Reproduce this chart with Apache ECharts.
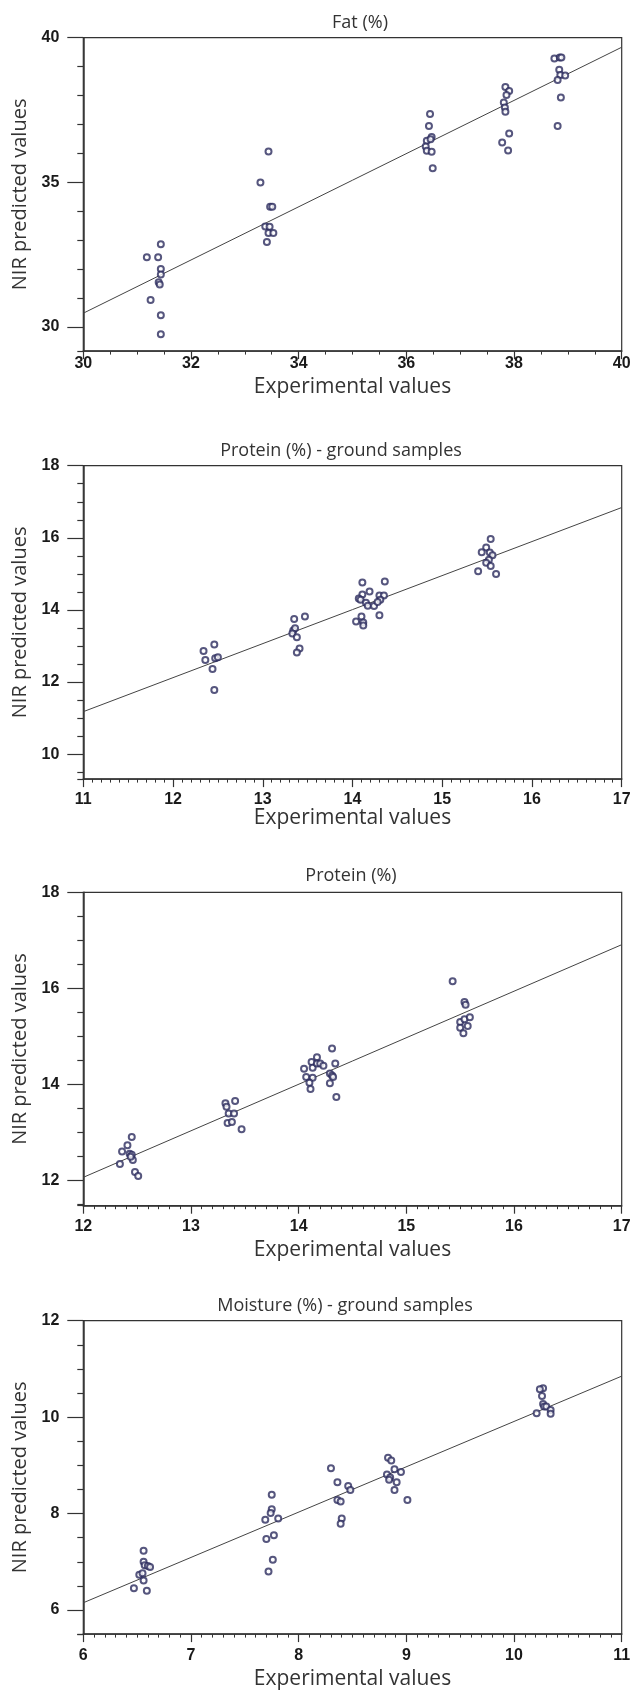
<!DOCTYPE html>
<html>
<head>
<meta charset="utf-8">
<script src="https://cdn.jsdelivr.net/npm/echarts@6/dist/echarts.min.js"></script>
<style>
html, body { margin: 0; padding: 0; background: #fff; }
#chart { width: 630px; height: 1692px; }
</style>
</head>
<body>
<div id="chart"></div>
<script>
// Fat (%)
var fatX = [31.18,31.39,31.44,31.44,31.44,31.40,31.42,31.25,31.44,31.44,
    33.44,33.29,33.47,33.51,33.38,33.46,33.44,33.53,33.41,
    36.44,36.42,36.47,36.38,36.45,36.36,36.38,36.47,36.49,
    37.84,37.91,37.86,37.81,37.83,37.84,37.91,37.78,37.89,
    38.75,38.85,38.88,38.84,38.86,38.95,38.81,38.87,38.81]
var fatY = [32.41,32.41,32.86,32.01,31.82,31.55,31.47,30.94,30.41,29.75,
    36.07,35.00,34.16,34.16,33.48,33.47,33.25,33.25,32.94,
    37.36,36.95,36.57,36.44,36.49,36.24,36.09,36.06,35.49,
    38.30,38.16,38.02,37.76,37.59,37.44,36.69,36.38,36.10,
    39.28,39.32,39.32,38.89,38.71,38.69,38.54,37.93,36.95]
var fatLineX = [30, 40]
var fatLineY = [30.48, 39.67]
var fatYTicks = [30, 35, 40]

// Protein (%) - ground samples
var protGroundX = [12.34,12.46,12.36,12.47,12.50,12.44,12.46,
    13.35,13.47,13.34,13.36,13.33,13.38,13.41,13.38,
    14.11,14.11,14.19,14.07,14.09,14.15,14.17,14.24,14.04,14.10,14.12,14.12,14.36,14.30,14.35,14.31,14.28,14.30,
    15.54,15.49,15.44,15.53,15.56,15.52,15.49,15.54,15.40,15.60]
var protGroundY = [12.86,13.04,12.61,12.66,12.69,12.36,11.78,
    13.75,13.82,13.43,13.49,13.35,13.24,12.93,12.82,
    14.76,14.43,14.51,14.32,14.28,14.20,14.12,14.11,13.68,13.82,13.65,13.57,14.79,14.40,14.40,14.28,14.22,13.85,
    15.97,15.73,15.60,15.59,15.52,15.39,15.31,15.22,15.07,15.00]
var protGroundLineX = [11, 17]
var protGroundLineY = [11.18, 16.84]
var protGroundYTicks = [10, 12, 14, 16, 18]

// Protein (%)
var protX = [12.34,12.36,12.41,12.45,12.43,12.45,12.46,12.48,12.51,12.44,
    13.32,13.33,13.41,13.35,13.40,13.34,13.38,13.47,
    14.05,14.12,14.17,14.13,14.17,14.20,14.23,14.07,14.13,14.10,14.11,14.31,14.34,14.29,14.31,14.32,14.29,14.35,
    15.43,15.54,15.55,15.50,15.54,15.59,15.50,15.57,15.53]
var protY = [12.35,12.61,12.74,12.91,12.56,12.54,12.43,12.18,12.10,12.50,
    13.61,13.54,13.66,13.40,13.40,13.20,13.22,13.07,
    14.33,14.47,14.57,14.35,14.44,14.44,14.39,14.16,14.14,14.04,13.91,14.75,14.44,14.23,14.19,14.16,14.03,13.74,
    16.15,15.72,15.66,15.30,15.36,15.40,15.18,15.22,15.07]
var protLineX = [12, 17]
var protLineY = [12.07, 16.91]
var protYTicks = [12, 14, 16, 18]

// Moisture (%) - ground samples
var moistX = [6.47,6.56,6.56,6.57,6.60,6.62,6.52,6.55,6.56,6.59,
    7.75,7.75,7.74,7.69,7.81,7.77,7.70,7.76,7.72,
    8.30,8.36,8.46,8.48,8.36,8.39,8.40,8.39,
    8.83,8.86,8.89,8.95,8.82,8.85,8.84,8.91,8.89,9.01,
    10.27,10.24,10.26,10.27,10.21,10.28,10.30,10.34,10.34]
var moistY = [6.45,7.23,7.00,6.93,6.91,6.89,6.73,6.76,6.61,6.40,
    8.39,8.09,8.01,7.87,7.90,7.55,7.47,7.04,6.80,
    8.94,8.65,8.57,8.49,8.28,8.25,7.90,7.79,
    9.16,9.10,8.92,8.86,8.81,8.75,8.70,8.65,8.49,8.28,
    10.60,10.58,10.44,10.27,10.08,10.22,10.22,10.15,10.07]
var moistLineX = [6, 11]
var moistLineY = [6.15, 10.85]
var moistYTicks = [6, 8, 10, 12]

var titles = ['Fat (%)', 'Protein (%) - ground samples', 'Protein (%)', 'Moisture (%) - ground samples']

var panels = [
    { x: fatX, y: fatY, lx: fatLineX, ly: fatLineY, yTicks: fatYTicks, xMin: 30, xMax: 40, xStep: 2, xSplit: 4, yMin: 29.17, yMax: 40, yMinor: 1 },
    { x: protGroundX, y: protGroundY, lx: protGroundLineX, ly: protGroundLineY, yTicks: protGroundYTicks, xMin: 11, xMax: 17, xStep: 1, xSplit: 10, yMin: 9.31, yMax: 18, yMinor: 0.5 },
    { x: protX, y: protY, lx: protLineX, ly: protLineY, yTicks: protYTicks, xMin: 12, xMax: 17, xStep: 1, xSplit: 10, yMin: 11.48, yMax: 18, yMinor: 0.5 },
    { x: moistX, y: moistY, lx: moistLineX, ly: moistLineY, yTicks: moistYTicks, xMin: 6, xMax: 11, xStep: 1, xSplit: 10, yMin: 5.5, yMax: 12, yMinor: 0.5 }
]

// layout of each panel
var layout = [
    { top: 37.7, titleX: 355, titleTop: 9, labelMargin: 4, nameGap: 25 },
    { top: 465.7, titleX: 336, titleTop: 437, labelMargin: 12, nameGap: 24 },
    { top: 892.3, titleX: 346, titleTop: 862, labelMargin: 13, nameGap: 34 },
    { top: 1320.7, titleX: 340, titleTop: 1292, labelMargin: 13, nameGap: 34 }
]

var axisColor = '#333'
var labelFont = { fontFamily: 'Liberation Sans', fontWeight: 'bold', fontSize: 16, color: '#1a1a1a' }

function zip(a, b) {
    var out = []
    for (var i = 0; i < a.length; i++) out.push([a[i], b[i]])
    return out
}

function minorValues(p) {
    var vals = [p.yMin]
    var start = Math.ceil(p.yMin / p.yMinor) * p.yMinor
    for (var v = start; v <= p.yMax + 1e-9; v += p.yMinor) {
        var r = Math.round(v * 100) / 100
        if (p.yTicks.indexOf(r) < 0) vals.push(r)
    }
    return vals
}

var option = {
    animation: false,
    backgroundColor: '#fff',
    title: [],
    grid: [],
    xAxis: [],
    yAxis: [],
    series: []
}

panels.forEach(function (p, i) {
    var l = layout[i]
    option.title.push({
        text: titles[i],
        left: l.titleX,
        top: l.titleTop,
        textAlign: 'center',
        textStyle: { fontFamily: 'Open Sans', fontSize: 18, fontWeight: 'normal', color: '#333' }
    })
    option.grid.push({
        left: 83.3, top: l.top, width: 538.4, height: 313.4,
        show: true, borderColor: axisColor, borderWidth: 1.2,
        outerBoundsMode: 'none'
    })
    option.xAxis.push({
        type: 'value', gridIndex: i, min: p.xMin, max: p.xMax, interval: p.xStep,
        name: 'Experimental values', nameLocation: 'middle', nameGap: l.nameGap,
        nameTextStyle: { fontFamily: 'Open Sans', fontSize: 21, color: '#333' },
        axisLine: { show: true, onZero: false, lineStyle: { color: axisColor, width: 1.5 } },
        axisTick: { show: true, length: 8, lineStyle: { color: axisColor, width: 1.2 } },
        minorTick: { show: true, splitNumber: p.xSplit, length: 3.5, lineStyle: { color: axisColor, width: 1 } },
        axisLabel: Object.assign({ margin: l.labelMargin, showMinLabel: true, showMaxLabel: true }, labelFont),
        splitLine: { show: false }
    })
    // main y axis: majors with labels
    option.yAxis.push({
        type: 'value', gridIndex: i, position: 'left', min: p.yMin, max: p.yMax,
        name: 'NIR predicted values', nameLocation: 'middle', nameGap: 50,
        nameTextStyle: { fontFamily: 'Open Sans', fontSize: 20, color: '#333' },
        axisLine: { show: true, onZero: false, lineStyle: { color: axisColor, width: 1.5 } },
        axisTick: { show: true, length: 16, customValues: p.yTicks, lineStyle: { color: axisColor, width: 1.2 } },
        axisLabel: Object.assign({ margin: 24, customValues: p.yTicks }, labelFont),
        splitLine: { show: false }
    })
    // second y axis: only the minor ticks
    option.yAxis.push({
        type: 'value', gridIndex: i, position: 'left', min: p.yMin, max: p.yMax,
        axisLine: { show: false },
        axisTick: { show: true, length: 6, customValues: minorValues(p), lineStyle: { color: axisColor, width: 1.2 } },
        axisLabel: { show: false },
        splitLine: { show: false }
    })
    option.series.push({
        type: 'line', xAxisIndex: i, yAxisIndex: 2 * i,
        data: zip(p.lx, p.ly), symbol: 'none', silent: true, z: 1,
        lineStyle: { color: '#444', width: 1 }
    })
    option.series.push({
        type: 'scatter', xAxisIndex: i, yAxisIndex: 2 * i,
        data: zip(p.x, p.y), symbol: 'emptyCircle', symbolSize: 6, z: 3,
        itemStyle: { color: '#2c2c5e', borderWidth: 1.1 }
    })
})

var chart = echarts.init(document.getElementById('chart'))
chart.setOption(option)
</script>
</body>
</html>
